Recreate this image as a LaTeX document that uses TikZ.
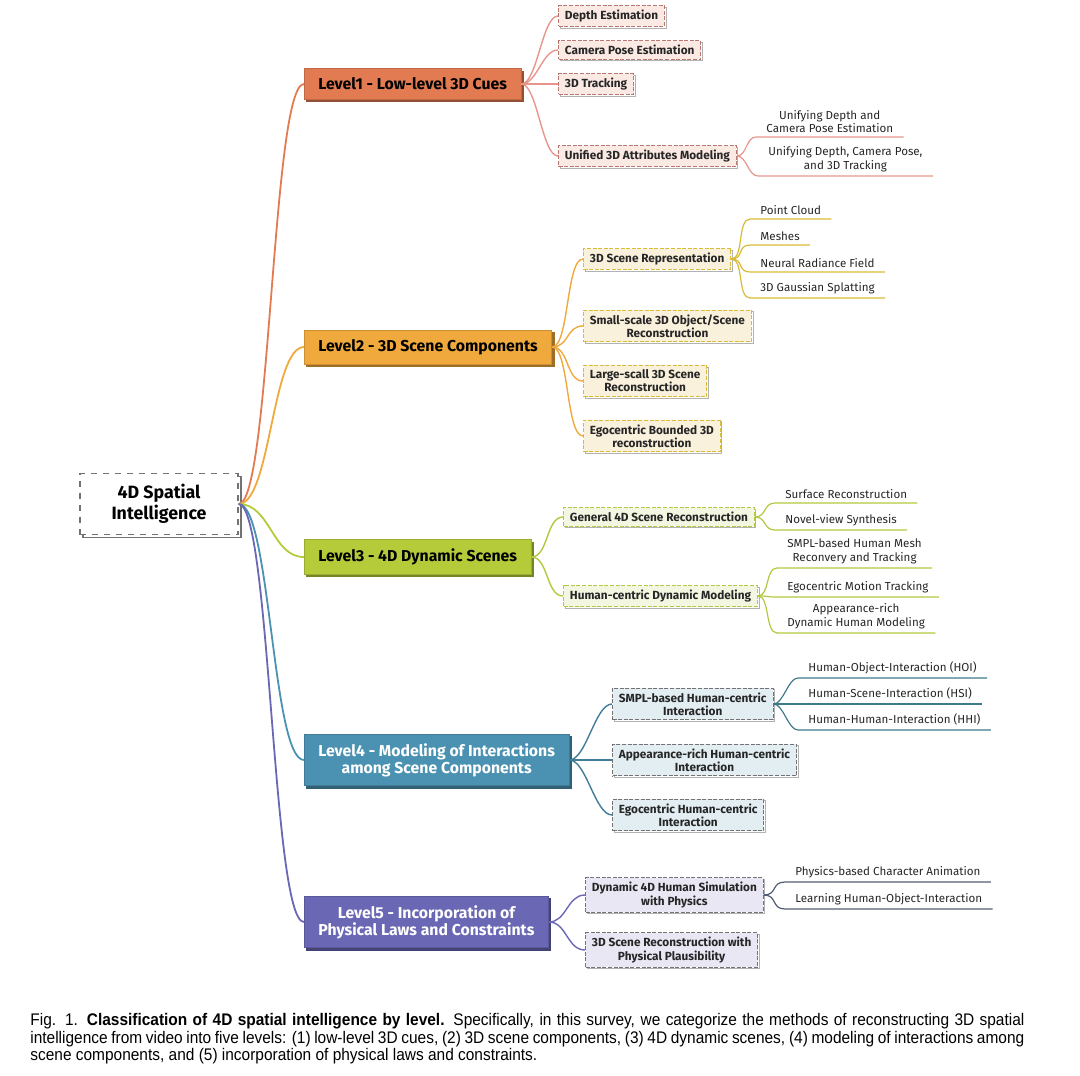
\documentclass[tikz,border=0pt]{standalone}
\usepackage{fontspec}
\setmainfont{Fira Sans}
\newfontfamily\capfont[FakeStretch=0.92]{Liberation Sans}
\usetikzlibrary{shadows}

\definecolor{lvA}{HTML}{E27B52}
\definecolor{lvB}{HTML}{F0A93C}
\definecolor{lvC}{HTML}{B5CB3A}
\definecolor{lvD}{HTML}{4B92B2}
\definecolor{lvE}{HTML}{6A67B4}
\definecolor{subA}{HTML}{FBE9E3}
\definecolor{subB}{HTML}{FAF1DC}
\definecolor{subC}{HTML}{F3F6E0}
\definecolor{subD}{HTML}{E3EEF3}
\definecolor{subE}{HTML}{E9E7F3}
\definecolor{lineA}{HTML}{E8968C}
\definecolor{lineB}{HTML}{D9BC36}
\definecolor{lineC}{HTML}{B3C83E}
\definecolor{lineD}{HTML}{3F7A8C}
\definecolor{lineE}{HTML}{525C72}

\begin{document}
\begin{tikzpicture}[x=0.5pt,y=-0.5pt,
  root node/.style={draw=black!55,dashed,line width=0.6pt,fill=white,align=center,
    font=\fontsize{8.9}{10.5}\selectfont\bfseries,minimum width=79pt,minimum height=30.5pt,
    general shadow={shadow xshift=1.5pt,shadow yshift=-1.5pt,draw=black!55,solid,fill=white}},
  level node/.style={anchor=west,align=center,inner xsep=7pt,inner ysep=4.6pt,
    font=\fontsize{7.9}{8.5}\selectfont\bfseries,line width=0.4pt,
    general shadow={shadow xshift=1.2pt,shadow yshift=-1.2pt,fill=#1!65!black,draw=#1!65!black},
    fill=#1,draw=#1!85!black},
  sub node/.style={anchor=west,align=center,inner xsep=3.2pt,inner ysep=2.2pt,
    font=\fontsize{5.9}{6.6}\selectfont\bfseries,line width=0.5pt,dash pattern=on 2pt off 0.8pt,
    general shadow={shadow xshift=0.8pt,shadow yshift=-0.8pt,draw=black!30,solid,fill=white},
    text=black!85},
  leaf node/.style={anchor=south west,align=center,inner xsep=5pt,inner ysep=2pt,
    font=\fontsize{5.8}{6.6}\selectfont,text=black!85},
  root edge/.style={line width=0.9pt},
  sub edge/.style={line width=0.7pt},
  leaf edge/.style={line width=0.6pt}]

\useasboundingbox (0,0) rectangle (1080,1075);

% root and the five levels
\node[root node] (root) at (159,504) {4D Spatial\\Intelligence};
\node[level node=lvA] (lvl1) at (304,84) {Level1 - Low-level 3D Cues};
\node[level node=lvB] (lvl2) at (304,347) {Level2 - 3D Scene Components};
\node[level node=lvC] (lvl3) at (304,557) {Level3 - 4D Dynamic Scenes};
\node[level node=lvD,text=white] (lvl4) at (304,760) {Level4 - Modeling of Interactions\\among Scene Components};
\node[level node=lvE,text=white] (lvl5) at (304,922) {Level5 - Incorporation of\\Physical Laws and Constraints};

% level 1
\node[sub node,fill=subA,draw=lineA!80!black] (depth) at (558,16) {Depth Estimation};
\node[sub node,fill=subA,draw=lineA!80!black] (campose) at (558,50) {Camera Pose Estimation};
\node[sub node,fill=subA,draw=lineA!80!black] (track) at (558,84) {3D Tracking};
\node[sub node,fill=subA,draw=lineA!80!black] (unified) at (558,156) {Unified 3D Attributes Modeling};
\node[leaf node] (unidc) at (756,137) {Unifying Depth and\\Camera Pose Estimation};
\node[leaf node] (unidct) at (758,176) {Unifying Depth, Camera Pose,\\and 3D Tracking};

% level 2
\node[sub node,fill=subB,draw=lineB] (scenerep) at (583,259) {3D Scene Representation};
\node[sub node,fill=subB,draw=lineB] (smallrec) at (583,326) {Small-scale 3D Object/Scene\\Reconstruction};
\node[sub node,fill=subB,draw=lineB] (largerec) at (583,381) {Large-scall 3D Scene\\Reconstruction};
\node[sub node,fill=subB,draw=lineB] (egorec) at (583,436) {Egocentric Bounded 3D\\reconstruction};
\node[leaf node] (pcloud) at (750,219) {Point Cloud};
\node[leaf node] (meshes) at (750,245) {Meshes};
\node[leaf node] (nerf) at (750,272) {Neural Radiance Field};
\node[leaf node] (gsplat) at (750,298) {3D Gaussian Splatting};

% level 3
\node[sub node,fill=subC,draw=lineC] (gen4d) at (563,517) {General 4D Scene Reconstruction};
\node[sub node,fill=subC,draw=lineC] (humdyn) at (563,596) {Human-centric Dynamic Modeling};
\node[leaf node] (surfrec) at (775,503) {Surface Reconstruction};
\node[leaf node] (novview) at (775,530) {Novel-view Synthesis};
\node[leaf node] (smplmesh) at (777,568) {SMPL-based Human Mesh\\Reconvery and Tracking};
\node[leaf node] (egomot) at (777,597) {Egocentric Motion Tracking};
\node[leaf node] (apprich) at (777,633) {Appearance-rich\\Dynamic Human Modeling};

% level 4
\node[sub node,fill=subD,draw=black!55] (smplint) at (612,704) {SMPL-based Human-centric\\Interaction};
\node[sub node,fill=subD,draw=black!55] (appint) at (612,760) {Appearance-rich Human-centric\\Interaction};
\node[sub node,fill=subD,draw=black!55] (egoint) at (612,815) {Egocentric Human-centric\\Interaction};
\node[leaf node] (hoi) at (798,678) {Human-Object-Interaction (HOI)};
\node[leaf node] (hsi) at (798,704) {Human-Scene-Interaction (HSI)};
\node[leaf node] (hhi) at (798,730) {Human-Human-Interaction (HHI)};

% level 5
\node[sub node,fill=subE,draw=black!55] (dynsim) at (585,895) {Dynamic 4D Human Simulation\\with Physics};
\node[sub node,fill=subE,draw=black!55] (physrec) at (585,950) {3D Scene Reconstruction with\\Physical Plausibility};
\node[leaf node] (charanim) at (785,882) {Physics-based Character Animation};
\node[leaf node] (learnhoi) at (785,909) {Learning Human-Object-Interaction};

% branches
\draw[root edge,lvA] (root.east) .. controls +(32,0) and +(-32,0) .. (lvl1.west);
\draw[root edge,lvB] (root.east) .. controls +(32,0) and +(-32,0) .. (lvl2.west);
\draw[root edge,lvC] (root.east) .. controls +(32,0) and +(-32,0) .. (lvl3.west);
\draw[root edge,lvD] (root.east) .. controls +(32,0) and +(-32,0) .. (lvl4.west);
\draw[root edge,lvE] (root.east) .. controls +(32,0) and +(-32,0) .. (lvl5.west);

\foreach \c in {depth,campose,track,unified}
  \draw[sub edge,lineA] (lvl1.east) .. controls +(16,0) and +(-16,0) .. (\c.west);
\foreach \c in {scenerep,smallrec,largerec,egorec}
  \draw[sub edge,lvB] (lvl2.east) .. controls +(17,0) and +(-17,0) .. (\c.west);
\foreach \c in {gen4d,humdyn}
  \draw[sub edge,lineC] (lvl3.east) .. controls +(17,0) and +(-17,0) .. (\c.west);
\foreach \c in {smplint,appint,egoint}
  \draw[sub edge,lvD!85!black] (lvl4.east) .. controls +(17,0) and +(-17,0) .. (\c.west);
\foreach \c in {dynsim,physrec}
  \draw[sub edge,lvE] (lvl5.east) .. controls +(18,0) and +(-18,0) .. (\c.west);

\foreach \c in {unidc,unidct}
  \draw[leaf edge,lineA] (unified.east) .. controls +(10,0) and +(-10,0) .. (\c.south west) -- (\c.south east);
\foreach \c in {pcloud,meshes,nerf,gsplat}
  \draw[leaf edge,lineB] (scenerep.east) .. controls +(13,0) and +(-13,0) .. (\c.south west) -- (\c.south east);
\foreach \c in {surfrec,novview}
  \draw[leaf edge,lineC] (gen4d.east) .. controls +(12,0) and +(-12,0) .. (\c.south west) -- (\c.south east);
\foreach \c in {smplmesh,egomot,apprich}
  \draw[leaf edge,lineC] (humdyn.east) .. controls +(12,0) and +(-12,0) .. (\c.south west) -- (\c.south east);
\foreach \c in {hoi,hsi,hhi}
  \draw[leaf edge,lineD] (smplint.east) .. controls +(10,0) and +(-10,0) .. (\c.south west) -- (\c.south east);
\foreach \c in {charanim,learnhoi}
  \draw[leaf edge,lineE] (dynsim.east) .. controls +(14,0) and +(-14,0) .. (\c.south west) -- (\c.south east);

% caption
\node[anchor=north west,inner sep=0pt,align=left,font=\capfont\fontsize{8.4}{8.75}\selectfont] (caption) at (30,1013)
  {\makebox[497pt][s]{Fig. 1. \textbf{Classification of 4D spatial intelligence by level.} Specifically, in this survey, we categorize the methods of reconstructing 3D spatial}\\
   \makebox[497pt][s]{intelligence from video into five levels: (1) low-level 3D cues, (2) 3D scene components, (3) 4D dynamic scenes, (4) modeling of interactions among}\\
   scene components, and (5) incorporation of physical laws and constraints.};

\end{tikzpicture}
\end{document}
